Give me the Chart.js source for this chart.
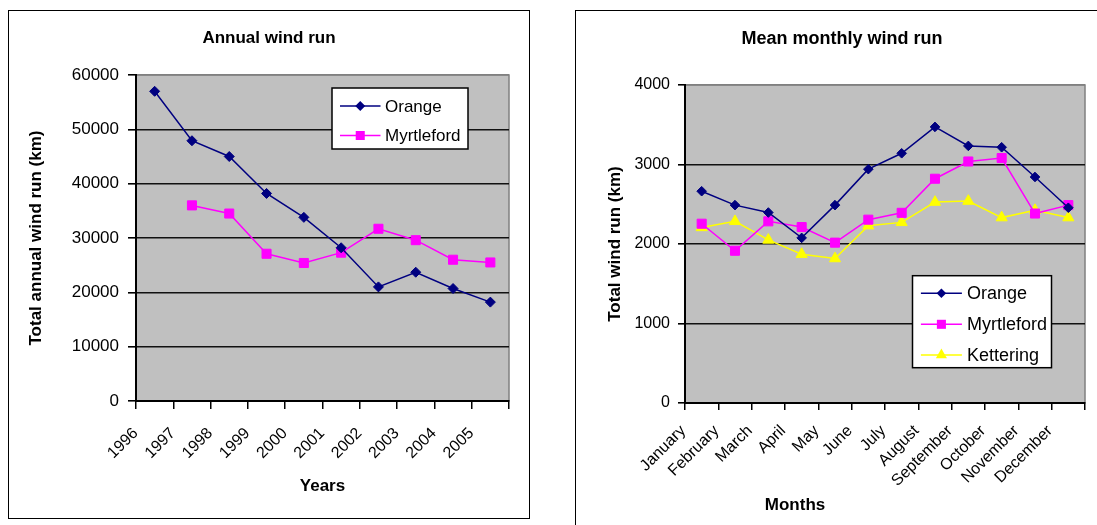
<!DOCTYPE html>
<html>
<head>
<meta charset="utf-8">
<script src="https://cdn.jsdelivr.net/npm/chart.js"></script>
<style>
  html, body { margin: 0; padding: 0; background: #fff; overflow: hidden; }
  body { width: 1097px; height: 525px; position: relative; }
  .frame { position: absolute; border: 1px solid #000; background: #fff; }
  #leftFrame { left: 8px; top: 10px; width: 520px; height: 507px; }
  #rightFrame { left: 575px; top: 10px; width: 540px; height: 530px; }
  canvas { display: block; }
</style>
</head>
<body>
<div class="frame" id="leftFrame"><canvas id="annualChart" width="520" height="507"></canvas></div>
<div class="frame" id="rightFrame"><canvas id="monthlyChart" width="532" height="514"></canvas></div>
<script>
// values
const years = ["1996", "1997", "1998", "1999", "2000", "2001", "2002", "2003", "2004", "2005"];
const orangeAnnual = [57000, 47900, 45000, 38200, 33800, 28200, 21000, 23700, 20700, 18200];
const myrtlefordAnnual = [null, 36000, 34500, 27100, 25400, 27300, 31700, 29600, 26000, 25500];

const months = ["January", "February", "March", "April", "May", "June", "July",
  "August", "September", "October", "November", "December"];
const orangeMonthly = [2664, 2489, 2396, 2077, 2489, 2941, 3141, 3473, 3234, 3217, 2843, 2456];
const myrtlefordMonthly = [2255, 1915, 2285, 2213, 2017, 2306, 2392, 2821, 3038, 3081, 2383, 2489];
const ketteringMonthly = [2208, 2285, 2051, 1872, 1817, 2230, 2272, 2527, 2540, 2332, 2425, 2332];

Chart.defaults.font.family = "'Liberation Sans', Arial, sans-serif";
Chart.defaults.color = "#000";

const NAVY = "#000080";
const MAGENTA = "#ff00ff";
const YELLOW = "#ffff00";
const FONT = "'Liberation Sans', Arial, sans-serif";

// grey plot area like excel
const plotBackground = {
  id: "plotBackground",
  beforeDraw(chart) {
    const { ctx, chartArea: a } = chart;
    ctx.save();
    ctx.fillStyle = "#c0c0c0";
    ctx.fillRect(a.left, a.top, a.width, a.height);
    ctx.strokeStyle = "#808080";
    ctx.lineWidth = 1.5;
    ctx.strokeRect(a.left, a.top, a.width, a.height);
    ctx.restore();
  },
};

function drawMarker(ctx, style, x, y, r) {
  ctx.beginPath();
  if (style === "rectRot") {
    ctx.moveTo(x - r, y);
    ctx.lineTo(x, y - r);
    ctx.lineTo(x + r, y);
    ctx.lineTo(x, y + r);
  } else if (style === "rect") {
    const s = r * Math.SQRT1_2;
    ctx.rect(x - s, y - s, 2 * s, 2 * s);
  } else {
    ctx.moveTo(x, y - r);
    ctx.lineTo(x + r * 0.866, y + r * 0.5);
    ctx.lineTo(x - r * 0.866, y + r * 0.5);
  }
  ctx.closePath();
  ctx.fill();
}

// boxed legend sitting inside the plot area
const boxLegend = {
  id: "boxLegend",
  afterDatasetsDraw(chart, args, opts) {
    const { ctx, chartArea: a } = chart;
    const left = a.right - opts.fromRight;
    const top = a.top + opts.fromTop;
    ctx.save();
    ctx.fillStyle = "#fff";
    ctx.fillRect(left, top, opts.width, opts.height);
    ctx.strokeStyle = "#000";
    ctx.lineWidth = 1.5;
    ctx.strokeRect(left, top, opts.width, opts.height);
    ctx.font = opts.fontSize + "px " + FONT;
    ctx.textBaseline = "middle";
    chart.data.datasets.forEach((ds, i) => {
      const y = top + opts.rows[i];
      ctx.strokeStyle = ds.borderColor;
      ctx.lineWidth = ds.borderWidth;
      ctx.beginPath();
      ctx.moveTo(left + opts.lineStart, y);
      ctx.lineTo(left + opts.lineEnd, y);
      ctx.stroke();
      ctx.fillStyle = ds.pointBackgroundColor;
      drawMarker(ctx, ds.pointStyle, left + (opts.lineStart + opts.lineEnd) / 2, y, ds.pointRadius);
      ctx.fillStyle = "#000";
      ctx.fillText(ds.label, left + opts.textStart, y + 1);
    });
    ctx.restore();
  },
};

// x axis caption that is not centred under the plot
const axisCaption = {
  id: "axisCaption",
  afterDraw(chart, args, opts) {
    if (!opts.text) return;
    const { ctx, chartArea: a } = chart;
    ctx.save();
    ctx.font = "bold " + opts.fontSize + "px " + FONT;
    ctx.fillStyle = "#000";
    ctx.textAlign = "center";
    ctx.textBaseline = "middle";
    ctx.fillText(opts.text, a.left + opts.dx, a.bottom + opts.dy);
    ctx.restore();
  },
};

function series(label, data, color, style, radius) {
  return {
    label: label,
    data: data,
    borderColor: color,
    backgroundColor: color,
    pointBackgroundColor: color,
    pointBorderColor: color,
    pointBorderWidth: 1,
    borderWidth: 1.5,
    pointStyle: style,
    pointRadius: radius,
    pointHoverRadius: radius,
    tension: 0,
    spanGaps: false,
  };
}

function gridColor(max) {
  return (c) => (c.tick && c.tick.value === max ? "#808080" : "#111");
}

// invisible right-hand axis that just keeps space between plot and frame
function spacer(width) {
  return {
    type: "linear",
    position: "right",
    grid: { display: false },
    border: { display: false },
    ticks: { display: false },
    afterFit: (s) => { s.width = width; },
  };
}

new Chart(document.getElementById("annualChart"), {
  type: "line",
  data: {
    labels: years,
    datasets: [
      series("Orange", orangeAnnual, NAVY, "rectRot", 5),
      series("Myrtleford", myrtlefordAnnual, MAGENTA, "rect", 6.4),
    ],
  },
  options: {
    responsive: false,
    animation: false,
    layout: { padding: 0 },
    plugins: {
      legend: { display: false },
      tooltip: { enabled: false },
      title: {
        display: true,
        text: "Annual wind run",
        font: { size: 17, weight: "bold" },
        padding: { top: 17, bottom: 26.6 },
      },
      boxLegend: {
        fromRight: 177, fromTop: 13, width: 136, height: 61,
        rows: [18, 47.5], lineStart: 8, lineEnd: 48.5, textStart: 53, fontSize: 17,
      },
    },
    scales: {
      x: {
        offset: true,
        afterFit: (s) => { s.height = 117; },
        grid: { offset: true, drawOnChartArea: false, tickLength: 8, tickColor: "#000", lineWidth: 1.5 },
        border: { display: true, color: "#000", width: 2 },
        ticks: { font: { size: 16 }, maxRotation: 45, minRotation: 45, padding: 15, labelOffset: -19, autoSkip: false },
        title: { display: true, text: "Years", font: { size: 17, weight: "bold" }, padding: { top: 4, bottom: 21.8 } },
      },
      y: {
        min: 0,
        max: 60000,
        afterFit: (s) => { s.width = 127; },
        grid: { color: gridColor(60000), tickColor: "#000", tickLength: 8, lineWidth: 1.6 },
        border: { display: true, color: "#000", width: 2 },
        ticks: { stepSize: 10000, font: { size: 17 }, padding: 9, callback: (v) => String(v) },
        title: { display: true, text: "Total annual wind run (km)", font: { size: 17, weight: "bold" }, padding: { top: 16.8, bottom: 0 } },
      },
      pad: spacer(20),
    },
  },
  plugins: [plotBackground, boxLegend, axisCaption],
});

new Chart(document.getElementById("monthlyChart"), {
  type: "line",
  data: {
    labels: months,
    datasets: [
      series("Orange", orangeMonthly, NAVY, "rectRot", 4.8),
      series("Myrtleford", myrtlefordMonthly, MAGENTA, "rect", 6.4),
      series("Kettering", ketteringMonthly, YELLOW, "triangle", 6.4),
    ],
  },
  options: {
    responsive: false,
    animation: false,
    layout: { padding: 0 },
    plugins: {
      legend: { display: false },
      tooltip: { enabled: false },
      title: {
        display: true,
        text: "Mean monthly wind run",
        font: { size: 18, weight: "bold" },
        padding: { top: 17.2, bottom: 35.2 },
      },
      boxLegend: {
        fromRight: 172.5, fromTop: 190.7, width: 139, height: 92,
        rows: [17.6, 48.6, 79.3], lineStart: 8.4, lineEnd: 49.4, textStart: 54.4, fontSize: 18,
      },
      axisCaption: { text: "Months", dx: 110, dy: 102, fontSize: 17 },
    },
    scales: {
      x: {
        offset: true,
        afterFit: (s) => { s.height = 122; },
        grid: { offset: true, drawOnChartArea: false, tickLength: 7, tickColor: "#000", lineWidth: 1.5 },
        border: { display: true, color: "#000", width: 2 },
        ticks: { font: { size: 16 }, maxRotation: 45, minRotation: 45, padding: 11.5, labelOffset: -18.5, autoSkip: false },
      },
      y: {
        min: 0,
        max: 4000,
        afterFit: (s) => { s.width = 109; },
        grid: { color: gridColor(4000), tickColor: "#000", tickLength: 7, lineWidth: 1.6 },
        border: { display: true, color: "#000", width: 2 },
        ticks: { stepSize: 1000, font: { size: 16 }, padding: 8, callback: (v) => String(v) },
        title: { display: true, text: "Total wind run (km)", font: { size: 17, weight: "bold" }, padding: { top: 28.8, bottom: 0 } },
      },
      pad: spacer(23),
    },
  },
  plugins: [plotBackground, boxLegend, axisCaption],
});
</script>
</body>
</html>
